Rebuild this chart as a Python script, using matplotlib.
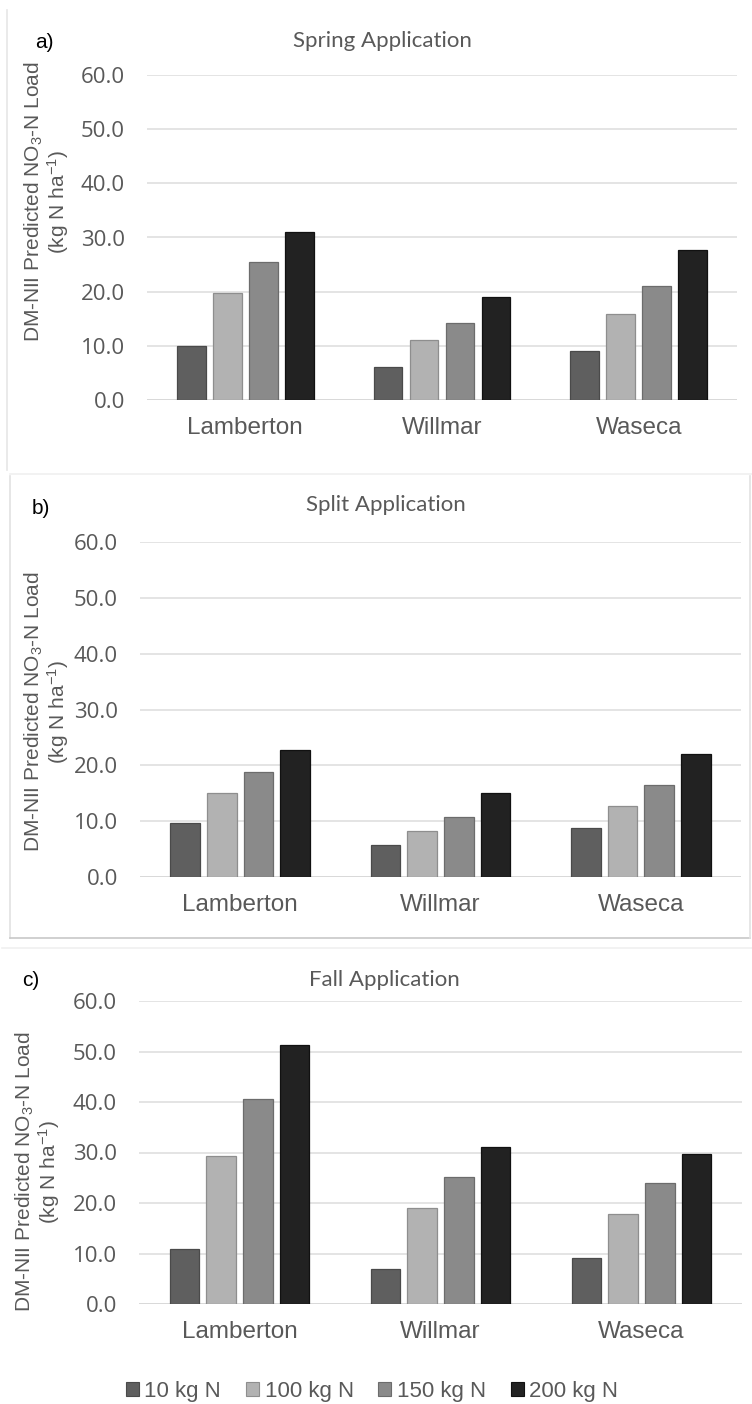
import matplotlib
matplotlib.use("Agg")
import matplotlib.pyplot as plt
from matplotlib.lines import Line2D
from matplotlib.patches import Patch
import numpy as np

# Data: DM-NII predicted NO3-N load (kg N/ha) by site and N rate
sites = ["Lamberton", "Willmar", "Waseca"]
rates = ["10 kg N", "100 kg N", "150 kg N", "200 kg N"]
spring = [[10.0, 6.0, 9.1],
          [19.7, 11.1, 15.9],
          [25.5, 14.3, 21.0],
          [31.0, 19.0, 27.7]]
split = [[9.7, 5.7, 8.8],
         [15.1, 8.3, 12.8],
         [18.8, 10.8, 16.5],
         [22.7, 15.0, 22.0]]
fall = [[10.9, 6.9, 9.2],
        [29.3, 19.1, 17.9],
        [40.5, 25.2, 23.9],
        [51.2, 31.0, 29.8]]
titles = ["Spring Application", "Split Application", "Fall Application"]
tags = ["a)", "b)", "c)"]
yticks = [0, 10, 20, 30, 40, 50, 60]

fills = ["#5f5f5f", "#b2b2b2", "#8a8a8a", "#222222"]
edges = ["#4a4a4a", "#8e8e8e", "#6c6c6c", "#111111"]
grey_txt = "#595959"

plt.rcParams["mathtext.default"] = "regular"

W, H = 752, 1404
fig = plt.figure(figsize=(W / 100, H / 100), dpi=100)


def fx(px):
    return px / W


def fy(py):
    return 1 - py / H


# panel geometry in pixels: left, right, y of 60, y of 0
geo = [(147, 737, 75, 400), (140, 741, 542, 877), (139, 742, 1001, 1304)]
title_pos = [(382, 41), (386, 505), (384, 980)]
tag_pos = [(35, 42), (32, 508), (22, 980)]
ylab_pos = [(47, 202), (47, 712), (38, 1172)]

panels = [spring, split, fall]
x = np.arange(len(sites))
bw = 0.147
step = 0.183

for k, data in enumerate(panels):
    l, r, t, b = geo[k]
    ax = fig.add_axes([fx(l), fy(b), (r - l) / W, (b - t) / H])
    for i, vals in enumerate(data):
        ax.bar(x + (i - 1.5) * step, vals, width=bw, color=fills[i],
               edgecolor=edges[i], linewidth=0.9, zorder=3, label=rates[i])
    ax.set_xlim(-0.5, 2.5)
    ax.set_ylim(0, 60)
    ax.set_yticks(yticks)
    ax.set_yticklabels([f"{v:.1f}" for v in yticks], fontfamily="Open Sans",
                       fontsize=16, color=grey_txt)
    ax.set_xticks(x)
    ax.set_xticklabels(sites, fontfamily="Liberation Sans", fontsize=17.5,
                       color=grey_txt)
    ax.tick_params(axis="y", length=0, pad=16)
    ax.tick_params(axis="x", length=0, pad=12)
    ax.grid(axis="y", color="#e4e4e4", linewidth=1.4, zorder=0)
    for s in ["top", "right", "left", "bottom"]:
        ax.spines[s].set_visible(False)
    ax.axhline(0, color="#d9d9d9", linewidth=1.4, zorder=2)

    tx, ty = title_pos[k]
    fig.text(fx(tx), fy(ty), titles[k], fontfamily="Lato", fontsize=16,
             color=grey_txt, ha="center", va="center")
    gx, gy = tag_pos[k]
    fig.text(fx(gx), fy(gy), tags[k], fontfamily="Liberation Sans",
             fontsize=15, color="black", ha="left", va="center")
    lx, ly = ylab_pos[k]
    fig.text(fx(lx), fy(ly),
             "DM-NII Predicted NO$_{3}$-N Load\n(kg N ha$^{-1}$)",
             fontfamily="Liberation Sans", fontsize=15, color=grey_txt,
             rotation=90, ha="center", va="center", linespacing=1.0,
             multialignment="center")

# panel frames
frame = [
    ((7, 7), (10, 470), "#e6e6e6"),
    ((10, 752), (474, 474), "#f0f0f0"),
    ((10, 10), (476, 938), "#e2e2e2"),
    ((10, 750), (938, 938), "#c8c8c8"),
    ((750, 750), (476, 938), "#e2e2e2"),
    ((2, 752), (948, 948), "#f0f0f0"),
]
for xs, ys, c in frame:
    fig.add_artist(Line2D([fx(v) for v in xs], [fy(v) for v in ys],
                          color=c, linewidth=1.2))

handles = [Patch(facecolor=fills[i], edgecolor=edges[i], linewidth=0.8)
           for i in range(len(rates))]
fig.legend(handles, rates, loc="center", bbox_to_anchor=(fx(372), fy(1391)),
           ncol=4, frameon=False, prop={"family": "Liberation Sans", "size": 16},
           labelcolor=grey_txt, handlelength=0.6, handleheight=0.6,
           handletextpad=0.25, columnspacing=1.1)

fig.savefig("out.png", dpi=100, facecolor="white")
